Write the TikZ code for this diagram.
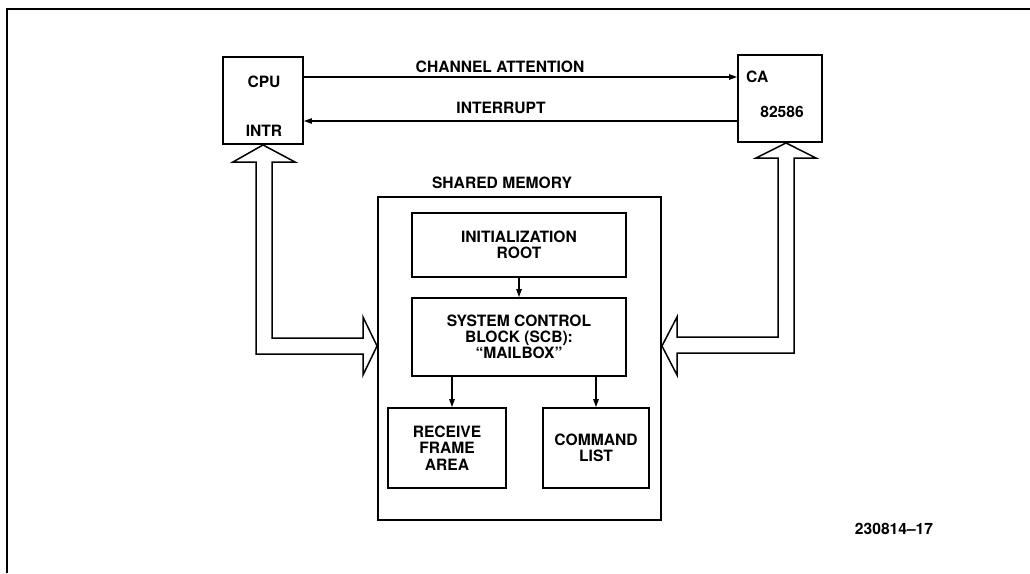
\documentclass[tikz,border=0pt]{standalone}
\usepackage{fontspec}
\setmainfont{TeX Gyre Heros}
\usetikzlibrary{arrows.meta}
\begin{document}
\begin{tikzpicture}[x=1pt,y=-1pt,
  blk/.style={draw,line width=1.9pt,inner sep=0pt},
  lbl/.style={font=\fontsize{15.6}{16.3}\selectfont\bfseries,align=center,inner sep=0pt},
  arr/.style={line width=1.1pt,-{Triangle[length=8pt,width=5.5pt]}},
  hollow/.style={draw,line width=1.5pt,line join=miter,fill=white}]
\useasboundingbox (0,0) rectangle (1030,573);
% frame
\draw[line width=1.4pt] (7,573) -- (7,9) -- (1030,9);
% boxes
\node[blk,minimum width=80pt,minimum height=87pt] (cpu) at (263,100.5) {};
\node[blk,minimum width=84pt,minimum height=87pt] (ca) at (780,98.5) {};
\node[blk,minimum width=283pt,minimum height=323pt] (mem) at (519.5,358.5) {};
\node[blk,lbl,minimum width=214pt,minimum height=64pt] (init) at (519,245) {INITIALIZATION\\ROOT};
\node[blk,lbl,minimum width=214pt,minimum height=78pt] (scb) at (519,337) {SYSTEM CONTROL\\BLOCK (SCB):\\“MAILBOX”};
\node[blk,lbl,minimum width=118pt,minimum height=80pt] (recv) at (447,448) {RECEIVE\\FRAME\\AREA};
\node[blk,lbl,minimum width=106pt,minimum height=80pt] (cmd) at (596,448) {COMMAND\\LIST};
% texts inside CPU and 82586
\node[lbl] (cpul) at (264,82) {CPU};
\node[lbl] (intrl) at (264,131) {INTR};
\node[lbl,anchor=west] (cal) at (746,77) {CA};
\node[lbl] (chip) at (782,112) {82586};
% connectors
\draw[arr] (cpu.east |- 0,77) -- (ca.west |- 0,77);
\draw[arr] (ca.west |- 0,121) -- (cpu.east |- 0,121);
\node[lbl] (chl) at (500,67) {CHANNEL ATTENTION};
\node[lbl] (intl) at (501,108) {INTERRUPT};
\node[lbl] (meml) at (502,183) {SHARED MEMORY};
\draw[arr] (init.south) -- (scb.north);
\draw[arr] (scb.south -| 452,0) -- (recv.north -| 452,0);
\draw[arr] (scb.south -| cmd.north) -- (cmd.north);
% hollow bus arrows
\draw[hollow] (cpu.south) -- (295,162) -- (272,162) -- (272,338) -- (363,338) -- (363,317)
  -- (mem.west |- 0,346) -- (363,375) -- (363,354) -- (256,354) -- (256,162) -- (233,162) -- cycle;
\draw[hollow] (ca.south -| 786,0) -- (816,158) -- (794,158) -- (794,353) -- (677,353) -- (677,375)
  -- (mem.east |- 0,346) -- (677,317) -- (677,337) -- (778,337) -- (778,158) -- (756,158) -- cycle;
% figure number
\node[lbl] (fig) at (894,529) {230814–17};
\end{tikzpicture}
\end{document}
